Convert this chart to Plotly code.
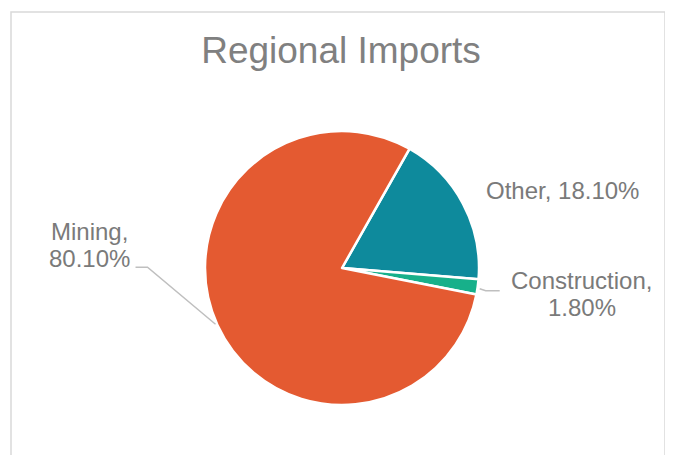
import math
import plotly.graph_objects as go

# ---- data ----
categories = ["Other", "Construction", "Mining"]
shares = [18.1, 1.8, 80.1]
colors = ["#0E8A9C", "#17B08A", "#E45A31"]
title_text = "Regional Imports"

# ---- layout geometry (page pixel coordinates) ----
W, H = 673, 455
OFF = 8  # page body margin
cx, cy, R = 342, 268, 137
rotation = 29.5
label_font = dict(family="Liberation Sans, Arial, sans-serif", size=24, color="#7A7A7A")
LINE = 27


def px(x):
    return (x - OFF) / W


def py(y):
    return 1 - (y - OFF) / H


fig = go.Figure(
    go.Pie(
        labels=categories,
        values=shares,
        sort=False,
        direction="clockwise",
        rotation=rotation,
        marker=dict(colors=colors, line=dict(color="white", width=2.5)),
        textinfo="none",
        hoverinfo="label+percent",
        showlegend=False,
        domain=dict(x=[px(cx - R), px(cx + R)], y=[py(cy + R), py(cy - R)]),
    )
)

# mid-angle rim points for each slice (clockwise from 12 o'clock)
total = sum(shares)
start = rotation
rim = {}
for cat, v in zip(categories, shares):
    span = 360 * v / total
    mid = math.radians(start + span / 2)
    rim[cat] = (cx + R * math.sin(mid), cy - R * math.cos(mid))
    start += span

pct = {c: f"{v:.2f}%" for c, v in zip(categories, shares)}

annotations = []
shapes = []


def add_label(lines, x, y):
    for i, t in enumerate(lines):
        annotations.append(dict(x=px(x), y=py(y + i * LINE), xref="paper", yref="paper",
                                text=t, showarrow=False, font=label_font,
                                xanchor="center", yanchor="middle"))


# Other label (no leader line)
ox, oy = rim["Other"]
add_label([f"Other, {pct['Other']}"], ox + 99, oy - 13)

# Construction label + leader
kx, ky = rim["Construction"]
add_label(["Construction,", pct["Construction"]], kx + 104, ky - 6)
shapes.append(dict(type="path", xref="paper", yref="paper",
                   path=f"M {px(kx + 2)} {py(ky + 2)} L {px(kx + 8)} {py(ky + 4)} L {px(kx + 22)} {py(ky + 4)}",
                   line=dict(color="#BFBFBF", width=1.5)))

# Mining label + leader
mx, my = rim["Mining"]
add_label(["Mining,", pct["Mining"]], mx - 128, my - 94)
shapes.append(dict(type="path", xref="paper", yref="paper",
                   path=f"M {px(mx - 2)} {py(my - 1)} L {px(mx - 70)} {py(my - 58)} L {px(mx - 82)} {py(my - 58)}",
                   line=dict(color="#BFBFBF", width=1.5)))

# chart-area border
shapes.append(dict(type="rect", xref="paper", yref="paper",
                   x0=px(11), x1=px(665), y0=py(H + 20), y1=py(12),
                   line=dict(color="#D9D9D9", width=1.5), layer="below"))

fig.update_layout(
    width=W,
    height=H,
    margin=dict(l=0, r=0, t=0, b=0),
    paper_bgcolor="white",
    plot_bgcolor="white",
    title=dict(text=title_text, x=px(341), xanchor="center", y=py(50), yanchor="middle",
               font=dict(family="Liberation Sans, Arial, sans-serif", size=37, color="#808080")),
    annotations=annotations,
    shapes=shapes,
)

fig.write_html("out.html")
